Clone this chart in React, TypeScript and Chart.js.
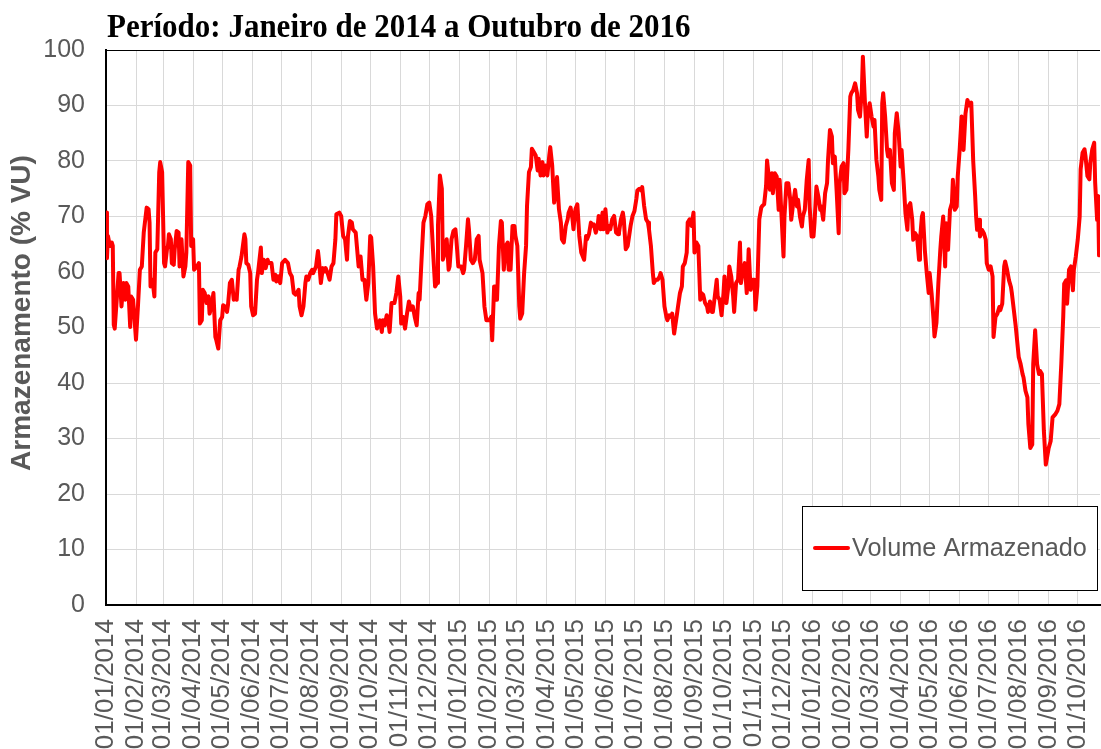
import React, { useEffect, useRef } from 'react';
import { Chart, registerables } from 'chart.js';

Chart.register(...registerables);

const TITLE = 'Período: Janeiro de 2014 a Outubro de 2016';
const Y_TITLE = 'Armazenamento (% VU)';
const SERIES_NAME = 'Volume Armazenado';

const tickLabels = [
  '01/01/2014', '01/02/2014', '01/03/2014', '01/04/2014', '01/05/2014', '01/06/2014',
  '01/07/2014', '01/08/2014', '01/09/2014', '01/10/2014', '01/11/2014', '01/12/2014',
  '01/01/2015', '01/02/2015', '01/03/2015', '01/04/2015', '01/05/2015', '01/06/2015',
  '01/07/2015', '01/08/2015', '01/09/2015', '01/10/2015', '01/11/2015', '01/12/2015',
  '01/01/2016', '01/02/2016', '01/03/2016', '01/04/2016', '01/05/2016', '01/06/2016',
  '01/07/2016', '01/08/2016', '01/09/2016', '01/10/2016',
];

// days since 01/01/2014
const days = [
  0, 1, 2, 4, 6, 7, 8, 9, 13, 14, 16, 18, 20, 21, 23, 25, 26, 28, 31, 33, 35, 37, 39, 42, 44, 45, 46, 48, 50, 51,
  53, 55, 56, 58, 60, 61, 63, 64, 65, 67, 68, 70, 71, 73, 75, 76, 78, 80, 82, 83, 85, 87, 88, 90, 91, 94, 96, 97, 99, 100,
  102, 104, 106, 107, 109, 111, 113, 114, 116, 118, 120, 121, 123, 125, 126, 128, 130, 132, 133, 135, 137, 138, 140, 143, 144, 145, 147, 149, 150, 152,
  154, 156, 157, 160, 161, 163, 165, 167, 168, 171, 173, 175, 176, 178, 180, 182, 185, 188, 190, 192, 194, 196, 199, 200, 202, 204, 206, 207, 209, 211,
  213, 214, 217, 219, 220, 222, 224, 226, 227, 229, 231, 233, 235, 237, 238, 241, 243, 245, 247, 249, 250, 252, 254, 255, 258, 261, 263, 265, 267, 269,
  271, 273, 274, 276, 278, 280, 283, 285, 286, 288, 290, 292, 293, 295, 298, 300, 302, 304, 305, 307, 309, 311, 313, 315, 317, 319, 321, 323, 324, 326,
  328, 330, 332, 334, 336, 338, 340, 342, 343, 345, 347, 348, 350, 352, 354, 355, 357, 359, 361, 362, 364, 367, 369, 370, 372, 374, 375, 377, 379, 381,
  383, 385, 386, 389, 391, 393, 396, 398, 399, 401, 403, 404, 406, 408, 409, 411, 413, 415, 416, 418, 420, 422, 423, 425, 427, 428, 430, 432, 434, 435,
  437, 439, 440, 442, 444, 446, 447, 449, 451, 452, 454, 456, 458, 459, 461, 463, 465, 466, 468, 470, 471, 473, 475, 477, 478, 480, 482, 483, 485, 487,
  489, 491, 494, 496, 497, 499, 501, 502, 504, 506, 508, 509, 511, 513, 514, 516, 518, 520, 521, 523, 525, 527, 529, 530, 532, 534, 535, 537, 539, 541,
  542, 544, 546, 548, 549, 551, 553, 554, 556, 558, 560, 561, 563, 565, 566, 568, 570, 572, 573, 575, 577, 579, 580, 582, 584, 585, 587, 588, 590, 591,
  593, 595, 596, 598, 600, 601, 603, 605, 607, 608, 610, 612, 614, 615, 617, 619, 621, 622, 624, 626, 627, 629, 631, 632, 634, 636, 638, 639, 641, 643,
  644, 646, 648, 649, 651, 653, 655, 656, 658, 660, 662, 663, 664, 666, 668, 670, 671, 673, 675, 677, 678, 680, 682, 683, 685, 686, 688, 689, 691, 693,
  695, 696, 698, 700, 701, 703, 705, 707, 708, 710, 712, 714, 715, 717, 719, 720, 722, 724, 726, 727, 729, 731, 732, 734, 736, 738, 739, 741, 743, 745,
  746, 748, 750, 751, 753, 755, 757, 758, 760, 762, 763, 765, 767, 769, 770, 772, 774, 776, 777, 779, 781, 782, 784, 786, 787, 789, 791, 793, 794, 796,
  798, 799, 801, 802, 803, 805, 807, 808, 810, 812, 814, 815, 817, 819, 821, 822, 824, 826, 828, 829, 831, 833, 834, 836, 838, 840, 841, 843, 844, 846,
  848, 850, 851, 853, 855, 856, 858, 860, 862, 863, 865, 867, 868, 870, 872, 874, 875, 877, 879, 880, 882, 884, 886, 888, 890, 892, 894, 896, 898, 899,
  900, 902, 903, 905, 907, 909, 910, 912, 914, 916, 917, 919, 921, 923, 924, 926, 928, 929, 931, 933, 935, 936, 938, 940, 942, 943, 945, 947, 948, 950,
  952, 953, 955, 957, 958, 960, 962, 964, 965, 967, 969, 971, 974, 976, 978, 981, 983, 985, 987, 989, 990, 992, 993, 995, 997, 999, 1000, 1002, 1004, 1006,
  1007, 1009, 1011, 1012, 1014, 1016, 1017, 1019, 1021, 1022, 1024, 1025, 1026,
];

// stored volume, % of useful volume
const volume = [
  70.7, 62.5, 66.5, 64.7, 65.3, 64.7, 50.5, 49.8, 59.8, 59.8, 53.8, 58, 55, 58, 57.4, 50.1, 55.6, 55, 47.8, 53.8, 60.4, 61, 67.1, 71.6, 71.3, 68.9, 57.4, 58.6, 55.6, 63.5,
  64.1, 78, 79.8, 78, 61.6, 61, 64.1, 64.7, 66.8, 65.9, 61.6, 61.3, 64.1, 67.4, 67.1, 61, 65.9, 59.2, 61, 63.5, 79.8, 79.2, 64.7, 65.9, 60.4, 61, 61.6, 50.7, 51.3, 56.8,
  56.2, 54.4, 55.6, 52.5, 53.8, 56.2, 48.3, 47.7, 46.2, 51.3, 51.9, 54, 53.8, 52.8, 54, 58, 58.6, 55, 55.6, 55, 60.4, 61, 62.8, 66.8, 65.9, 61.6, 61.3, 59.8, 53.8, 52.2,
  52.5, 58.6, 59.8, 64.4, 59.8, 62.2, 60.7, 62.2, 61.6, 61.6, 58.6, 59.5, 58.3, 59.2, 58, 61.6, 62.2, 61.6, 59.8, 59.2, 56.2, 55.9, 56.8, 53.8, 52.2, 53.8, 58, 59.2, 58.6, 59.8,
  60.4, 59.8, 61, 63.8, 62.2, 58, 60.7, 60.1, 60.7, 59.8, 58.6, 61, 61.6, 65.9, 70.4, 70.7, 70.1, 66.5, 65.9, 62.2, 66.5, 69.2, 68.9, 67.7, 67.1, 61, 62.8, 58.6, 58.6, 55,
  58, 66.5, 66.2, 61, 52.5, 49.8, 51.3, 49.2, 51.3, 50.4, 52.2, 50.7, 49.2, 54.4, 54.4, 56.2, 59.2, 55.6, 50.7, 51.9, 49.8, 52.5, 54.7, 53.2, 53.8, 51.9, 50.4, 56.2, 55, 62.2,
  68.9, 70.1, 72.2, 72.5, 70.1, 63.5, 57.4, 58, 68.3, 77.4, 75, 62.2, 63.5, 65.9, 60.4, 61, 65.9, 67.4, 67.7, 65.9, 61, 61, 59.8, 60.4, 64.7, 69.5, 67.7, 62.2, 61.6, 62.2,
  65.9, 66.5, 62.2, 59.8, 53.8, 51.3, 51.3, 51.9, 47.7, 57.4, 57.4, 55, 64.7, 69.2, 68.9, 60.4, 64.7, 65.3, 60.4, 60.4, 68.3, 68.3, 66.5, 64.7, 53.8, 51.6, 52.5, 59.8, 64.7, 71.9,
  78, 78.9, 82.2, 81.6, 81, 78.3, 80.4, 77.4, 79.8, 77.4, 79.2, 77.4, 81, 82.5, 79.2, 72.5, 74.7, 77.1, 71.3, 68.9, 65.9, 65.3, 68.3, 69.5, 70.7, 71.6, 69.5, 67.7, 71.3, 72.2,
  66.5, 63.5, 62.2, 66.5, 65.9, 66.8, 68.9, 68.3, 68.6, 67.1, 68.3, 70.1, 67.7, 70.7, 67.7, 71.3, 67.1, 68.3, 67.7, 69.5, 70.1, 67.1, 66.8, 67.1, 69.5, 70.7, 69.5, 64.1, 64.7, 67.1,
  68.3, 70.1, 71, 73.2, 74.7, 75, 74.7, 75.3, 71.9, 69.5, 68.9, 67.7, 64.7, 59.8, 58, 58.6, 58.6, 59.2, 59.8, 58.6, 53.8, 51.9, 51.3, 52.2, 51.9, 52.5, 48.9, 50.1, 52.5, 53.8,
  56.2, 57.4, 61, 61.6, 63.5, 68.9, 69.5, 68.3, 70.7, 63.5, 65.3, 64.7, 55, 56.2, 55.9, 54.4, 53.8, 52.8, 54.7, 52.8, 52.8, 55.6, 58.6, 55.6, 55, 52.2, 56.2, 59.2, 54.4, 57.4,
  61, 59.2, 55.6, 52.8, 58, 58.6, 65.3, 58, 60.4, 61.6, 56.2, 59.2, 64.1, 56.8, 58.6, 58.6, 53.2, 57.4, 69.5, 71.6, 71.9, 72.2, 75.5, 80.1, 76.8, 74.8, 77.8, 74.2, 77.8, 77.2,
  71.2, 76.6, 70, 62.8, 70, 76, 76, 73, 69.4, 72.4, 74.8, 71.8, 73, 70, 68.2, 70, 71.2, 76.6, 80.2, 71.8, 66.4, 66.4, 68.8, 75.4, 73.6, 71.2, 71.8, 69.4, 74.2, 76,
  80.2, 85.6, 84.4, 79.6, 80.8, 74.2, 67, 76, 79, 79.6, 74.2, 74.8, 82, 91.6, 92.2, 92.8, 94, 92.2, 89.2, 88, 93, 98.8, 91, 84.4, 88, 90.4, 88, 86.2, 87.4, 80.2,
  77.2, 74.8, 73, 90.4, 92.2, 88, 82, 80.8, 82, 76, 74.8, 85, 88.6, 85, 79, 82, 76.6, 70.6, 67.6, 71.8, 72.4, 69.4, 65.8, 67, 66.4, 62.2, 65.8, 70, 70.6, 64,
  59.8, 56.2, 59.8, 56.2, 51.4, 48.4, 50.8, 58, 64, 66.4, 70, 61, 68.8, 64, 71.2, 72.4, 76.6, 71.2, 71.8, 77.2, 82, 88, 82, 88.5, 91, 90, 90.5, 80, 73.7, 70,
  67.6, 69.4, 66.4, 67.6, 67, 65.8, 61.6, 60.4, 61, 59.2, 48.3, 51.9, 52.5, 53.7, 53.1, 54.3, 61, 61.9, 60.4, 58.5, 57.3, 56.1, 53.1, 50.1, 46.5, 44.7, 43.4, 41.6, 41, 38.6,
  37.4, 32.6, 28.3, 28.9, 43.4, 49.5, 43.4, 41.6, 42.2, 41.6, 31.4, 25.3, 28.3, 29.5, 33.8, 34.4, 35, 36.2, 43.4, 51.9, 57.9, 58.5, 54.3, 60.4, 61, 56.7, 60.4, 62.8, 65.8, 70,
  78.5, 81.5, 82.1, 80.9, 77.3, 76.7, 79.7, 82.1, 83.3, 76.1, 69.4, 73.7, 63,
];

const X_MAX_DAY = 1027;

function dayOf(label: string): number {
  const [d, m, y] = label.split('/').map(Number);
  return Math.round((Date.UTC(y, m - 1, d) - Date.UTC(2014, 0, 1)) / 86400000);
}
const tickDays = tickLabels.map(dayOf);

const AXIS_GRAY = '#595959';

const overlayPlugin = {
  id: 'overlay',
  afterDraw(chart: any) {
    const ctx = chart.ctx as CanvasRenderingContext2D;
    const a = chart.chartArea;
    ctx.save();
    // top border of plot area
    ctx.strokeStyle = '#000000';
    ctx.lineWidth = 1;
    ctx.beginPath();
    ctx.moveTo(a.left, a.top + 0.5);
    ctx.lineTo(a.right, a.top + 0.5);
    ctx.stroke();

    // title
    ctx.save();
    ctx.translate(107, 37);
    ctx.scale(1, 1.07);
    ctx.fillStyle = '#000000';
    ctx.font = 'bold 31px "Liberation Serif"';
    ctx.textAlign = 'left';
    ctx.textBaseline = 'alphabetic';
    ctx.fillText(TITLE, 0, 0);
    ctx.restore();

    // y axis title
    ctx.save();
    ctx.translate(22, 313);
    ctx.rotate(-Math.PI / 2);
    ctx.font = 'bold 28px "Liberation Sans"';
    ctx.fillStyle = AXIS_GRAY;
    ctx.textAlign = 'center';
    ctx.textBaseline = 'middle';
    ctx.fillText(Y_TITLE, 0, 0);
    ctx.restore();

    // legend
    const lx = 802, ly = 506, lw = 295, lh = 84;
    ctx.fillStyle = '#ffffff';
    ctx.fillRect(lx, ly, lw, lh);
    ctx.strokeStyle = '#000000';
    ctx.lineWidth = 1;
    ctx.strokeRect(lx + 0.5, ly + 0.5, lw, lh);
    const cy = ly + 42;
    ctx.strokeStyle = '#ff0000';
    ctx.lineWidth = 4;
    ctx.lineCap = 'round';
    ctx.beginPath();
    ctx.moveTo(815, cy);
    ctx.lineTo(848, cy);
    ctx.stroke();
    ctx.fillStyle = AXIS_GRAY;
    ctx.font = '25.3px "Liberation Sans"';
    ctx.textAlign = 'left';
    ctx.textBaseline = 'middle';
    ctx.fillText(SERIES_NAME, 852, cy + 1);
    ctx.restore();
  },
};

export default function App() {
  const canvasRef = useRef<HTMLCanvasElement | null>(null);

  useEffect(() => {
    const canvas = canvasRef.current;
    if (!canvas) return;
    const points = days.map((d, i) => ({ x: d, y: volume[i] }));
    const chart = new Chart(canvas, {
      type: 'line',
      data: {
        datasets: [
          {
            label: SERIES_NAME,
            data: points,
            borderColor: '#ff0000',
            backgroundColor: '#ff0000',
            borderWidth: 4,
            pointRadius: 0,
            tension: 0,
            fill: false,
            borderJoinStyle: 'round',
            borderCapStyle: 'round',
          } as any,
        ],
      },
      options: {
        animation: false,
        responsive: false,
        maintainAspectRatio: false,
        layout: { padding: { left: 0, right: 1, top: 50, bottom: 0 } },
        plugins: {
          legend: { display: false },
          title: { display: false },
          tooltip: { enabled: false },
        },
        scales: {
          x: {
            type: 'linear',
            min: 0,
            max: X_MAX_DAY,
            afterBuildTicks: (scale: any) => {
              scale.ticks = tickDays.map((v) => ({ value: v }));
            },
            afterFit: (scale: any) => {
              scale.height = 144;
              scale.paddingLeft = 0;
              scale.paddingRight = 0;
            },
            ticks: {
              autoSkip: false,
              maxRotation: 90,
              minRotation: 90,
              padding: 14,
              color: AXIS_GRAY,
              font: { family: '"Liberation Sans"', size: 26 },
              callback: (_v: any, i: number) => tickLabels[i],
            },
            grid: { color: '#d9d9d9', lineWidth: 1, drawTicks: false },
            border: { color: '#000000', width: 2 },
          },
          y: {
            min: 0,
            max: 100,
            afterFit: (scale: any) => {
              scale.width = 106;
              scale.paddingTop = 0;
              scale.paddingBottom = 0;
            },
            ticks: {
              stepSize: 10,
              padding: 21,
              color: AXIS_GRAY,
              font: { family: '"Liberation Sans"', size: 25 },
            },
            grid: { color: '#d9d9d9', lineWidth: 1, drawTicks: false },
            border: { color: '#000000', width: 2 },
          },
        },
      },
      plugins: [overlayPlugin],
    });
    return () => chart.destroy();
  }, []);

  return (
    <div style={{ position: 'fixed', left: 0, top: 0, width: 1101, height: 749, background: '#ffffff' }}>
      <canvas ref={canvasRef} width={1101} height={749} style={{ display: 'block', width: 1101, height: 749 }} />
    </div>
  );
}
